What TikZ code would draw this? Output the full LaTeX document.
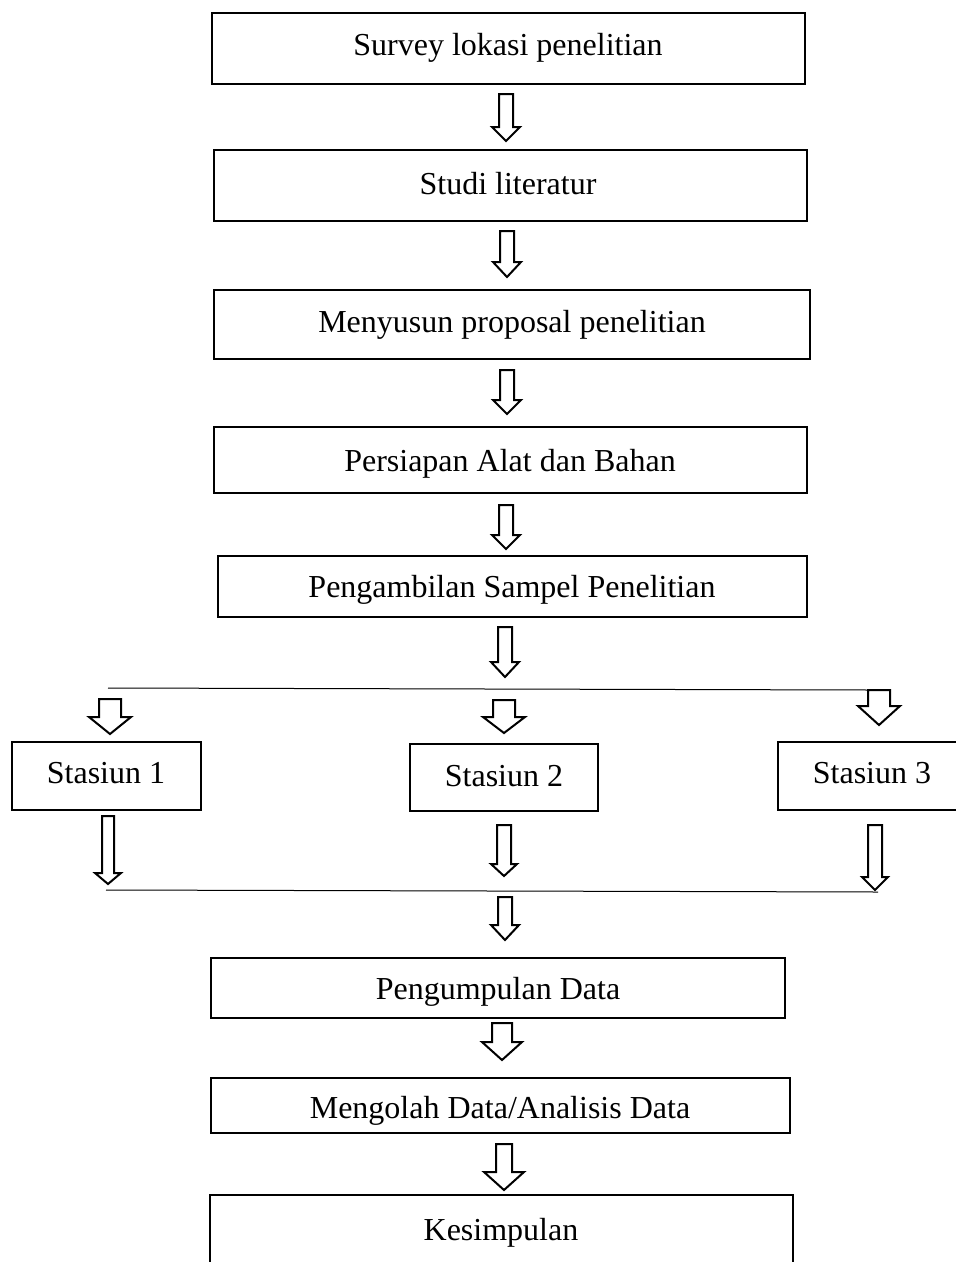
\documentclass[tikz,border=0pt]{standalone}
\usepackage{fontspec}
\setmainfont{Liberation Serif}
\tikzset{
  box/.style={draw=black, line width=2pt, fill=white},
  lbl/.style={anchor=base, inner sep=0pt, font=\fontsize{32}{38}\selectfont},
  barrow/.style={draw=black, line width=2pt, fill=white, line join=miter},
  thinline/.style={draw=black, line width=1pt}
}
% block arrow: #1 centre x, #2 shaft top, #3 shaft half width, #4 head half width, #5 head base y, #6 tip y
\newcommand{\blkarrow}[6]{%
  \draw[barrow] (#1-#3,#2) -- (#1+#3,#2) -- (#1+#3,#5) -- (#1+#4,#5) -- (#1,#6) -- (#1-#4,#5) -- (#1-#3,#5) -- cycle;}
\begin{document}
\begin{tikzpicture}[x=1pt,y=-1pt]
\useasboundingbox (0,0) rectangle (956,1262);
\clip (0,0) rectangle (956,1262);
\fill[white] (0,0) rectangle (956,1262);
% boxes
\draw[box] (212,13) rectangle (805,84);
\node[lbl] (t1) at (508,55) {Survey lokasi penelitian};
\draw[box] (214,150) rectangle (807,221);
\node[lbl] (t2) at (508,194) {Studi literatur};
\draw[box] (214,290) rectangle (810,359);
\node[lbl] (t3) at (512,332) {Menyusun proposal penelitian};
\draw[box] (214,427) rectangle (807,493);
\node[lbl] (t4) at (510,471) {Persiapan Alat dan Bahan};
\draw[box] (218,556) rectangle (807,617);
\node[lbl] (t5) at (512,597) {Pengambilan Sampel Penelitian};
\draw[box] (12,742) rectangle (201,810);
\node[lbl] (s1) at (106,783) {Stasiun 1};
\draw[box] (410,744) rectangle (598,811);
\node[lbl] (s2) at (504,786) {Stasiun 2};
\draw[box] (778,742) rectangle (980,810);
\node[lbl] (s3) at (872,783) {Stasiun 3};
\draw[box] (211,958) rectangle (785,1018);
\node[lbl] (t6) at (498,999) {Pengumpulan Data};
\draw[box] (211,1078) rectangle (790,1133);
\node[lbl] (t7) at (500,1118) {Mengolah Data/Analisis Data};
\draw[box] (210,1195) rectangle (793,1280);
\node[lbl] (t8) at (501,1240) {Kesimpulan};
% block arrows down the main column
\blkarrow{506}{94}{7}{14}{127}{141}
\blkarrow{507}{231}{7}{14}{262}{277}
\blkarrow{507}{370}{7}{14}{400}{414}
\blkarrow{506}{505}{7}{14}{535}{549}
\blkarrow{505}{627}{7}{14}{662}{677}
% split line
\draw[thinline] (108,688) -- (870,690);
\blkarrow{110}{699}{11}{21}{717}{734}
\blkarrow{504}{700}{11}{21}{717}{733}
\blkarrow{879}{690}{11}{21}{706}{725}
% arrows from stations
\blkarrow{108}{816}{6}{13}{873}{884}
\blkarrow{504}{825}{7}{13}{864}{876}
\blkarrow{875}{825}{7}{13}{877}{890}
% join line
\draw[thinline] (106,890) -- (878,892);
\blkarrow{505}{897}{7}{14}{925}{940}
\blkarrow{502}{1023}{10}{20}{1042}{1060}
\blkarrow{504}{1144}{8}{20}{1172}{1190}
\end{tikzpicture}
\end{document}
